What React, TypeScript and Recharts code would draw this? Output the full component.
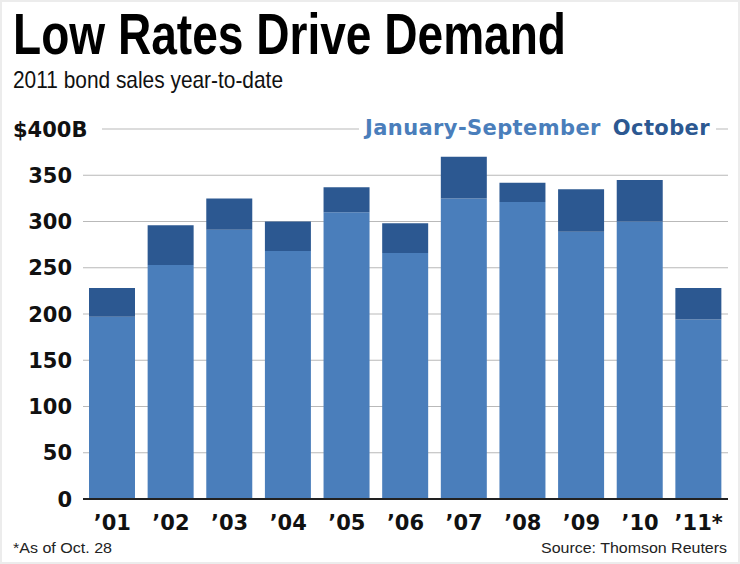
import React from 'react';
import { BarChart, Bar, XAxis, YAxis, CartesianGrid, Legend } from 'recharts';

const years = ['’01', '’02', '’03', '’04', '’05', '’06', '’07', '’08', '’09', '’10', '’11*'];
const janSep = [197, 253, 291, 268, 310, 266, 325, 321, 289, 300, 194];
const october = [31, 43, 34, 32, 27, 32, 45, 21, 46, 45, 34];
const yTicks = [0, 50, 100, 150, 200, 250, 300, 350, 400];

const LIGHT = '#4a7ebb';
const DARK = '#2c5891';

const data = years.map((year, i) => ({ year, janSep: janSep[i], october: october[i] }));

const YTick = (props: any) => {
  const { y, payload } = props;
  if (payload.value === 400) {
    return (
      <g>
        <rect x={80} y={y - 6} width={22} height={12} fill="#fff" />
        <text x={13} y={y} dy="0.36em" fontFamily="'DejaVu Sans', sans-serif" fontWeight="bold" fontSize={21} fill="#111">
          $400B
        </text>
      </g>
    );
  }
  return (
    <text x={72} y={y} dy="0.36em" textAnchor="end" fontFamily="'DejaVu Sans', sans-serif" fontWeight="bold" fontSize={21} fill="#111">
      {payload.value}
    </text>
  );
};

const XTick = (props: any) => {
  const { x, payload } = props;
  return (
    <text x={x} y={530} textAnchor="middle" fontFamily="'DejaVu Sans', sans-serif" fontWeight="bold" fontSize={21} fill="#111">
      {payload.value}
    </text>
  );
};

const LegendContent = () => (
  <div style={{ background: '#fff', padding: '0 6px', fontFamily: "'DejaVu Sans', sans-serif", fontWeight: 'bold', fontSize: 21, lineHeight: '24px', whiteSpace: 'nowrap', letterSpacing: 0.4 }}>
    <span style={{ color: LIGHT }}>January-September</span>
    <span style={{ color: DARK, marginLeft: 12 }}>October</span>
  </div>
);

const App: React.FC = () => {
  return (
    <div style={{ position: 'absolute', left: 0, top: 0, width: 740, height: 564, background: '#fff' }}>
      <svg width={740} height={564} style={{ position: 'absolute', left: 0, top: 0, pointerEvents: 'none' }}>
        <rect x={1} y={1} width={738} height={562} fill="none" stroke="#ececec" strokeWidth={2} />
        <text x={13} y={54} fontFamily="'Liberation Sans', Arial, sans-serif" fontWeight="bold" fontSize={57} fill="#000" textLength={553} lengthAdjust="spacingAndGlyphs">
          Low Rates Drive Demand
        </text>
        <text x={13} y={88} fontFamily="'Liberation Sans', sans-serif" fontSize={24} fill="#111" textLength={270} lengthAdjust="spacingAndGlyphs">
          2011 bond sales year-to-date
        </text>
        <text x={13} y={553} fontFamily="'Liberation Sans', sans-serif" fontSize={15} fill="#222" textLength={99} lengthAdjust="spacingAndGlyphs">
          *As of Oct. 28
        </text>
        <text x={727} y={553} textAnchor="end" fontFamily="'Liberation Sans', sans-serif" fontSize={15} fill="#222" textLength={186} lengthAdjust="spacingAndGlyphs">
          Source: Thomson Reuters
        </text>
      </svg>
      <div style={{ position: 'absolute', left: 0, top: 0 }}>
        <BarChart width={740} height={564} data={data} margin={{ top: 129, right: 12, bottom: 25, left: 0 }}>
          <CartesianGrid vertical={false} stroke="#b9b9b9" strokeWidth={1.2} />
          <YAxis
            type="number"
            domain={[0, 400]}
            ticks={yTicks}
            width={83}
            axisLine={false}
            tickLine={false}
            tick={<YTick />}
            interval={0}
          />
          <XAxis
            dataKey="year"
            height={40}
            axisLine={{ stroke: '#222', strokeWidth: 2 }}
            tickLine={false}
            tick={<XTick />}
            interval={0}
          />
          <Legend layout="horizontal" verticalAlign="middle" align="center" wrapperStyle={{ left: 359, top: 116, width: 'auto' }} content={<LegendContent />} />
          <Bar dataKey="janSep" name="January-September" stackId="a" fill={LIGHT} barSize={46} isAnimationActive={false} />
          <Bar dataKey="october" name="October" stackId="a" fill={DARK} barSize={46} isAnimationActive={false} />
        </BarChart>
      </div>
    </div>
  );
};

export default App;
